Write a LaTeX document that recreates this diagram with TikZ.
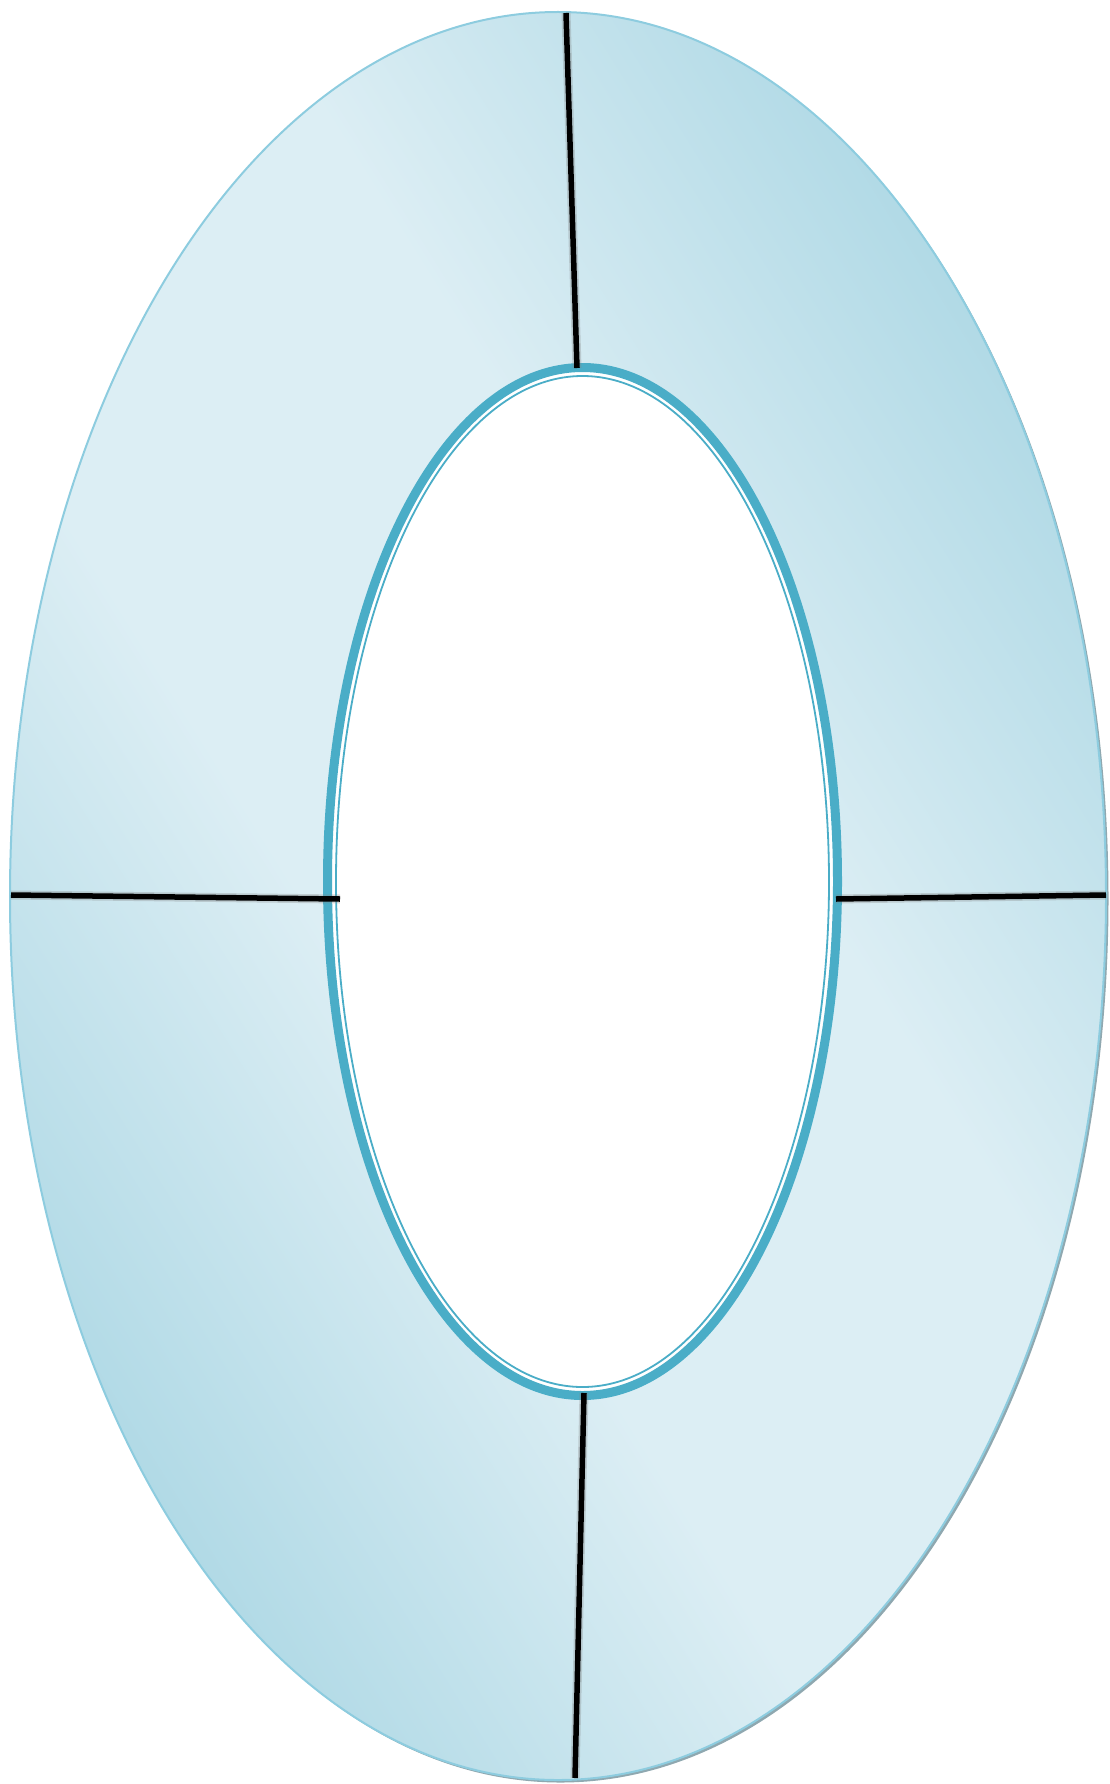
\documentclass[tikz,border=0pt]{standalone}
\usepackage{xcolor}
\definecolor{ringDark}{HTML}{A5D4E2}
\definecolor{ringLight}{HTML}{DCEEF4}
\definecolor{ringEdge}{HTML}{8DCCDF}
\definecolor{ringShadow}{HTML}{8FA8B0}
\definecolor{holeBlue}{HTML}{4AADC7}
\usepackage{tikz}
\usetikzlibrary{calc}

% Band of light across the ring, dark towards two opposite corners
\pgfdeclareverticalshading{ringShade}{100bp}{%
    color(0bp)=(ringDark); color(21bp)=(ringDark);
    color(42bp)=(ringLight); color(58bp)=(ringLight);
    color(79bp)=(ringDark); color(100bp)=(ringDark)}

\begin{document}
\begin{tikzpicture}[
    x=1pt, y=-1pt,
    ringFill/.style={shading=ringShade, shading angle=-58},
    ringBorder/.style={draw=ringEdge, line width=2pt},
    holeBorder/.style={draw=holeBlue, line width=9pt, fill=white},
    holeInner/.style={draw=holeBlue, line width=1.8pt},
    spoke/.style={draw=black, line width=5.5pt},
    spokeShadow/.style={draw=black!50, line width=9pt, opacity=0.3}
]
    \useasboundingbox (0,0) rectangle (1109,1784);

    % Centres of the ring and of the hole
    \coordinate (ringC) at (558,896);
    \coordinate (holeC) at (582.5,881.5);

    % Outer ring with its shadow
    \fill [ringShadow] ($(ringC)+(2.5,2.5)$) ellipse [x radius=548, y radius=884];
    \path [ringFill] (ringC) ellipse [x radius=548, y radius=884];
    \draw [ringBorder] (ringC) ellipse [x radius=548, y radius=884];

    % Hole
    \draw [holeBorder] (holeC) ellipse [x radius=255, y radius=514];
    \draw [holeInner] (holeC) ellipse [x radius=246.5, y radius=505.5];

    % Spoke end points
    \coordinate (topOut) at (566,13);
    \coordinate (topIn) at (577,368);
    \coordinate (leftOut) at (11,895);
    \coordinate (leftIn) at (340,899);
    \coordinate (rightIn) at (836,899);
    \coordinate (rightOut) at (1106,895);
    \coordinate (botIn) at (584,1393);
    \coordinate (botOut) at (575,1778);

    % Spokes
    \foreach \a/\b in {topOut/topIn, leftOut/leftIn, rightIn/rightOut, botIn/botOut} {
        \draw [spokeShadow] (\a) -- (\b);
        \draw [spoke] (\a) -- (\b);
    }
\end{tikzpicture}
\end{document}
